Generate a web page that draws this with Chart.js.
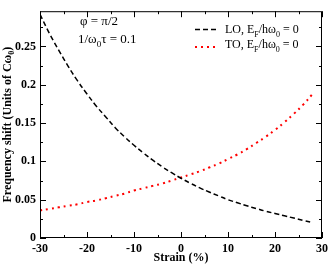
<!DOCTYPE html>
<html>
<head>
<meta charset="UTF-8">
<title>Frequency shift vs strain</title>
<style>
html, body {margin:0; padding:0; background:#fff}
canvas {display:block}
</style>
</head>
<body>
<canvas id="myChart" width="332" height="264"></canvas>
<script src="https://cdn.jsdelivr.net/npm/chart.js"></script>
<script>
// strain (%) and frequency shift (units of C w0)
const strain = [-30,-28,-26,-24,-22,-20,-18,-16,-14,-12,-10,-8,-6,-4,-2,0,2,4,6,8,10,12,14,16,18,20,22,24,26,28];
const loShift = [0.292,0.267,0.245,0.224,0.205,0.188,0.172,0.158,0.144,0.132,0.121,0.111,0.1016,0.093,0.0852,0.078,0.0714,0.0654,0.060,0.055,0.050,0.046,0.042,0.0385,0.035,0.032,0.029,0.026,0.023,0.020];
const toShift = [0.036,0.038,0.040,0.042,0.044,0.047,0.049,0.052,0.055,0.058,0.062,0.065,0.068,0.071,0.075,0.079,0.083,0.087,0.092,0.097,0.103,0.109,0.116,0.124,0.132,0.141,0.151,0.162,0.174,0.188];
const xTicks = [-30,-20,-10,0,10,20,30];
const yTicks = [0,0.05,0.1,0.15,0.2,0.25];

const SERIF = '"Liberation Serif", "DejaVu Serif", serif';

// draws text pieces, some of them as subscripts
function richText(ctx, x, y, parts, size) {
  ctx.textBaseline = 'alphabetic';
  ctx.textAlign = 'left';
  for (const p of parts) {
    if (p.sub) {
      ctx.font = Math.round(size * 0.7) + 'px ' + SERIF;
      ctx.fillText(p.t, x, y + size * 0.3);
    } else {
      ctx.font = size + 'px ' + SERIF;
      ctx.fillText(p.t, x, y);
    }
    x += ctx.measureText(p.t).width;
  }
}

const framePlugin = {
  id: 'frame',
  afterDraw(chart) {
    const ctx = chart.ctx;
    const a = chart.chartArea;
    const xs = chart.scales.x, ys = chart.scales.y;
    ctx.save();
    ctx.strokeStyle = '#000';
    ctx.lineWidth = 1;
    ctx.strokeRect(a.left + 0.5, a.top + 0.5, a.right - a.left - 1, a.bottom - a.top - 1);

    ctx.beginPath();
    for (let v = -30; v <= 30; v += 5) {
      const px = Math.round(xs.getPixelForValue(v)) + 0.5;
      const len = (v % 10 === 0) ? 6 : 3;
      ctx.moveTo(px, a.bottom); ctx.lineTo(px, a.bottom - len);
      ctx.moveTo(px, a.top); ctx.lineTo(px, a.top + len);
    }
    for (let i = 0; i <= 11; i++) {
      const v = i * 0.025;
      const py = Math.round(ys.getPixelForValue(v)) + 0.5;
      const len = (i % 2 === 0) ? 6 : 3;
      ctx.moveTo(a.left, py); ctx.lineTo(a.left + len, py);
      ctx.moveTo(a.right, py); ctx.lineTo(a.right - len, py);
    }
    ctx.stroke();

    // axis titles
    ctx.fillStyle = '#000';
    ctx.font = 'bold 12px ' + SERIF;
    ctx.textAlign = 'center';
    ctx.textBaseline = 'middle';
    ctx.fillText('Strain (%)', (a.left + a.right) / 2, 258);

    ctx.save();
    ctx.translate(8, (a.top + a.bottom) / 2);
    ctx.rotate(-Math.PI / 2);
    const p1 = 'Frequency shift (Units of C\u03c9';
    ctx.font = 'bold 12px ' + SERIF;
    const w1 = ctx.measureText(p1).width;
    ctx.font = 'bold 8px ' + SERIF;
    const w2 = ctx.measureText('0').width;
    ctx.font = 'bold 12px ' + SERIF;
    const w3 = ctx.measureText(')').width;
    let sx = -(w1 + w2 + w3) / 2;
    ctx.textAlign = 'left';
    ctx.fillText(p1, sx, 0);
    ctx.font = 'bold 8px ' + SERIF;
    ctx.fillText('0', sx + w1, 4);
    ctx.font = 'bold 12px ' + SERIF;
    ctx.fillText(')', sx + w1 + w2, 0);
    ctx.restore();

    // annotations
    ctx.fillStyle = '#000';
    richText(ctx, 80, 25, [{t: '\u03c6 = \u03c0/2'}], 13);
    richText(ctx, 78, 43, [{t: '1/\u03c9'}, {t: '0', sub: true}, {t: '\u03c4 = 0.1'}], 13);

    // legend
    ctx.lineWidth = 1.5;
    ctx.strokeStyle = '#000';
    ctx.setLineDash([5, 3]);
    ctx.beginPath(); ctx.moveTo(195, 29.5); ctx.lineTo(219, 29.5); ctx.stroke();
    ctx.strokeStyle = '#ff0000';
    ctx.lineWidth = 2;
    ctx.setLineDash([2, 4]);
    ctx.beginPath(); ctx.moveTo(195, 47); ctx.lineTo(219, 47); ctx.stroke();
    ctx.setLineDash([]);
    richText(ctx, 225, 33, [{t: 'LO, E'}, {t: 'F', sub: true}, {t: '/h\u03c9'}, {t: '0', sub: true}, {t: ' = 0'}], 12);
    richText(ctx, 225, 48, [{t: 'TO, E'}, {t: 'F', sub: true}, {t: '/h\u03c9'}, {t: '0', sub: true}, {t: ' = 0'}], 12);
    ctx.restore();
  }
};

new Chart(document.getElementById('myChart'), {
  type: 'line',
  data: {
    labels: strain,
    datasets: [{
      label: 'LO',
      data: strain.map((s, i) => ({x: s, y: loShift[i]})),
      borderColor: '#000',
      borderWidth: 1.5,
      borderDash: [5, 3],
      pointRadius: 0,
      tension: 0.4,
      fill: false
    }, {
      label: 'TO',
      data: strain.map((s, i) => ({x: s, y: toShift[i]})),
      borderColor: '#ff0000',
      borderWidth: 2,
      borderDash: [2, 4],
      pointRadius: 0,
      tension: 0.4,
      fill: false
    }]
  },
  options: {
    responsive: false,
    animation: false,
    layout: {padding: {top: 4, right: 7, left: 0, bottom: 0}},
    plugins: {legend: {display: false}, tooltip: {enabled: false}},
    scales: {
      x: {
        type: 'linear',
        min: -30, max: 30,
        afterFit: s => { s.height = 26; },
        afterBuildTicks: s => { s.ticks = xTicks.map(v => ({value: v})); },
        grid: {display: false, drawTicks: false},
        border: {display: false},
        ticks: {
          padding: 4,
          color: '#000',
          font: {family: SERIF, weight: 'bold', size: 12},
          callback: v => String(v)
        }
      },
      y: {
        type: 'linear',
        min: 0, max: 0.296,
        afterFit: s => { s.width = 40; },
        afterBuildTicks: s => { s.ticks = yTicks.map(v => ({value: v})); },
        grid: {display: false, drawTicks: false},
        border: {display: false},
        ticks: {
          padding: 4,
          color: '#000',
          font: {family: SERIF, weight: 'bold', size: 12},
          callback: v => String(Math.round(v * 100) / 100)
        }
      }
    }
  },
  plugins: [framePlugin]
});
</script>
</body>
</html>
